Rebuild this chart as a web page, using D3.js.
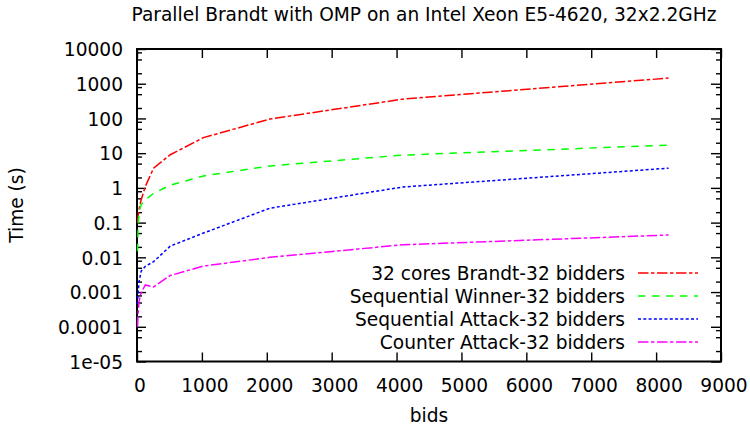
<!DOCTYPE html>
<html>
<head>
<meta charset="utf-8">
<script src="https://cdn.jsdelivr.net/npm/d3@7"></script>
<style>
  body { margin: 0; background: #fff; }
  svg { display: block; font-family: "DejaVu Sans", sans-serif; }
</style>
</head>
<body>
<svg id="chart" width="750" height="427"></svg>
<script>
// ---- data ----
const bids = [8, 16, 32, 64, 128, 256, 512, 1024, 2048, 4096, 8192];
const brandt32 = [0.1, 0.15, 0.25, 0.45, 1.1, 3.7, 9, 28, 96, 360, 1450];
const seqWinner = [0.015, 0.07, 0.2, 0.33, 0.45, 0.7, 1.2, 2.2, 4.3, 8.8, 17];
const seqAttack = [0.00045, 0.0009, 0.002, 0.004, 0.0055, 0.0075, 0.021, 0.05, 0.26, 1.06, 3.7];
const counterAttack = [0.0001, 0.00022, 0.00055, 0.00095, 0.0016, 0.0014, 0.003, 0.0056, 0.01, 0.023, 0.044];

const seriesNames = ["32 cores Brandt-32 bidders", "Sequential Winner-32 bidders",
                     "Sequential Attack-32 bidders", "Counter Attack-32 bidders"];
const seriesColors = ["#ff0000", "#00ff00", "#0000ff", "#ff00ff"];
const seriesDash = ["10.5,2.5,3.5,2.5", "7.5,6.5", "3,2.3", "10.5,2.5,3.5,2.5"];
const seriesValues = [brandt32, seqWinner, seqAttack, counterAttack];

const xTicks = [0, 1000, 2000, 3000, 4000, 5000, 6000, 7000, 8000, 9000];
const yTicks = [1e4, 1e3, 100, 10, 1, 0.1, 0.01, 0.001, 0.0001, 1e-5];
const yTickLabels = ["10000", "1000", "100", "10", "1", "0.1", "0.01", "0.001", "0.0001", "1e-05"];
const yMinorFactors = [2, 5, 8];

const title = "Parallel Brandt with OMP on an Intel Xeon E5-4620, 32x2.2GHz";
const xLabel = "bids";
const yLabel = "Time (s)";

// ---- layout ----
const L = 137, R = 721, T = 49, B = 361.5;
const FS = 18.6;
const svg = d3.select("#chart");

const x = d3.scaleLinear().domain([0, 9000]).range([L, R]);
const y = d3.scaleLog().domain([1e-5, 1e4]).range([B, T]);

const yMinor = [];
yTicks.forEach(t => { if (t < 1e4) yMinorFactors.forEach(f => yMinor.push(t * f)); });

function styleAxis(g) {
  g.select(".domain").remove();
  g.selectAll("line").attr("stroke", "#000").attr("stroke-width", 1.4);
  g.selectAll("text").attr("font-size", FS).attr("font-family", "DejaVu Sans").attr("fill", "#000");
}

// left major
svg.append("g").attr("transform", `translate(${L},0)`)
  .call(d3.axisLeft(y).tickValues(yTicks).tickSize(-9).tickPadding(14)
    .tickFormat((d, i) => yTickLabels[i]))
  .call(styleAxis)
  .selectAll("text").attr("dy", "0.36em");
// left minor
svg.append("g").attr("transform", `translate(${L},0)`)
  .call(d3.axisLeft(y).tickValues(yMinor).tickSize(-5).tickFormat(""))
  .call(styleAxis);
// right major/minor
svg.append("g").attr("transform", `translate(${R},0)`)
  .call(d3.axisRight(y).tickValues(yTicks).tickSize(-10).tickFormat(""))
  .call(styleAxis);
svg.append("g").attr("transform", `translate(${R},0)`)
  .call(d3.axisRight(y).tickValues(yMinor).tickSize(-5).tickFormat(""))
  .call(styleAxis);
// bottom
svg.append("g").attr("transform", `translate(0,${B})`)
  .call(d3.axisBottom(x).tickValues(xTicks).tickSize(-9).tickPadding(17)
    .tickFormat(d => String(d)))
  .call(styleAxis)
  .selectAll("text").attr("dx", 2.5);
// top
svg.append("g").attr("transform", `translate(0,${T})`)
  .call(d3.axisTop(x).tickValues(xTicks).tickSize(-9).tickFormat(""))
  .call(styleAxis);

// border
svg.append("rect").attr("x", L).attr("y", T).attr("width", R - L).attr("height", B - T)
  .attr("fill", "none").attr("stroke", "#000").attr("stroke-width", 2);

// series
const line = d3.line().x((d, i) => x(bids[i])).y(d => y(d));
seriesValues.forEach((vals, k) => {
  svg.append("path").datum(vals)
    .attr("d", line)
    .attr("fill", "none")
    .attr("stroke", seriesColors[k])
    .attr("stroke-width", 1.5)
    .attr("stroke-dasharray", seriesDash[k]);
});

// legend
const legY0 = 273, legStep = 23;
seriesNames.forEach((name, k) => {
  const ly = legY0 + k * legStep;
  svg.append("text").attr("x", 625).attr("y", ly).attr("dy", "0.36em")
    .attr("text-anchor", "end").attr("font-size", FS).text(name);
  svg.append("line").attr("x1", 638).attr("x2", 698).attr("y1", ly).attr("y2", ly)
    .attr("stroke", seriesColors[k]).attr("stroke-width", 1.5)
    .attr("stroke-dasharray", seriesDash[k]);
});

// title and axis labels
svg.append("text").attr("x", 424).attr("y", 21).attr("text-anchor", "middle")
  .attr("font-size", FS).text(title);
svg.append("text").attr("x", 429).attr("y", 422).attr("text-anchor", "middle")
  .attr("font-size", FS).text(xLabel);
svg.append("text").attr("transform", "translate(23,205) rotate(-90)")
  .attr("text-anchor", "middle").attr("font-size", FS).text(yLabel);
</script>
</body>
</html>
